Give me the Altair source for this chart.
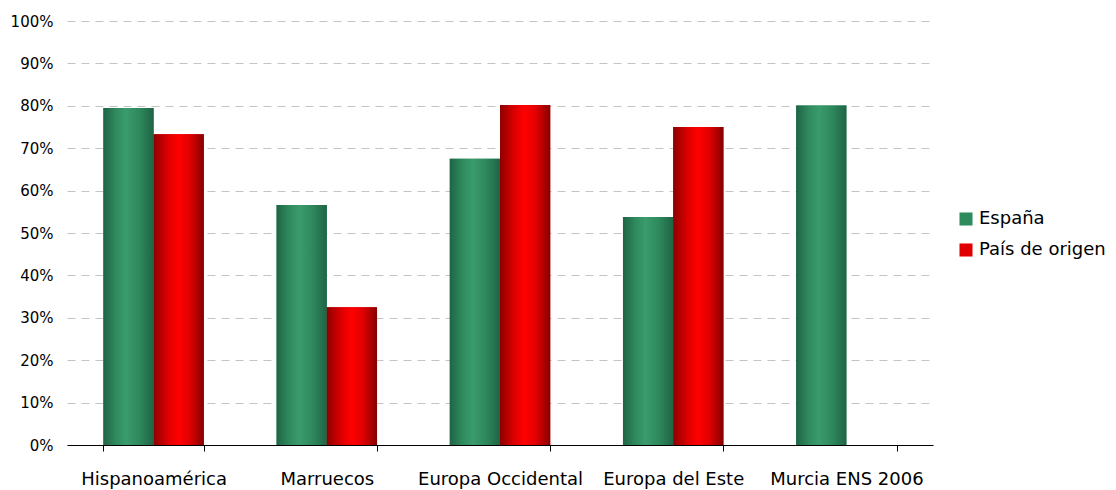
import altair as alt
import pandas as pd

# Share of respondents by region of origin
categorias = ["Hispanoamérica", "Marruecos", "Europa Occidental", "Europa del Este", "Murcia ENS 2006"]
series = ["España", "País de origen"]
espana = [79.5, 56.6, 67.5, 53.8, 80.1]
pais_origen = [73.3, 32.5, 80.2, 75.0, None]
ticks_y = [0, 0.1, 0.2, 0.3, 0.4, 0.5, 0.6, 0.7, 0.8, 0.9, 1.0]

rows = []
for region, e, p in zip(categorias, espana, pais_origen):
    rows.append({"region": region, "serie": "España", "valor": e / 100})
    if p is not None:
        rows.append({"region": region, "serie": "País de origen", "valor": p / 100})
df = pd.DataFrame(rows)

# cylinder-like horizontal shading for the bars
verde = alt.Gradient(
    gradient="linear", x1=0, x2=1, y1=0, y2=0,
    stops=[
        alt.GradientStop(color="#1f6445", offset=0),
        alt.GradientStop(color="#2f8a5e", offset=0.25),
        alt.GradientStop(color="#3a9b6c", offset=0.45),
        alt.GradientStop(color="#2f8a5e", offset=0.7),
        alt.GradientStop(color="#1f6445", offset=1),
    ],
)
rojo = alt.Gradient(
    gradient="linear", x1=0, x2=1, y1=0, y2=0,
    stops=[
        alt.GradientStop(color="#8e0000", offset=0),
        alt.GradientStop(color="#e00000", offset=0.3),
        alt.GradientStop(color="#ff0000", offset=0.5),
        alt.GradientStop(color="#e00000", offset=0.72),
        alt.GradientStop(color="#850000", offset=1),
    ],
)

FONT = "DejaVu Sans"

base = alt.Chart(df).encode(
    x=alt.X(
        "region:N", sort=categorias, title=None,
        scale=alt.Scale(paddingInner=0.42, paddingOuter=0.21),
        axis=alt.Axis(
            labelAngle=0, labelFontSize=18, labelPadding=19, labelColor="#000000",
            domainColor="#000000", domainWidth=1, tickColor="#000000", tickSize=6,
            tickBand="extent", grid=False, labelFont=FONT,
        ),
    ),
    xOffset=alt.XOffset("serie:N", sort=series, scale=alt.Scale(paddingInner=0, paddingOuter=0)),
    y=alt.Y(
        "valor:Q", title=None,
        scale=alt.Scale(domain=[0, 1], nice=False),
        axis=alt.Axis(
            values=ticks_y, format=".0%", labelFontSize=15, labelPadding=14,
            labelColor="#000000", domain=False, ticks=False, grid=True,
            gridColor="#c4c4c4", gridDash=[8, 6], gridWidth=1, labelFont=FONT,
        ),
    ),
)

solid = base.mark_bar().encode(
    color=alt.Color(
        "serie:N",
        scale=alt.Scale(domain=series, range=["#2e8b5e", "#e00000"]),
        legend=alt.Legend(
            title=None, orient="none", legendX=890, legendY=189,
            symbolType="square", symbolSize=170, symbolStrokeWidth=0,
            labelFontSize=18, labelFont=FONT, labelColor="#000000",
            rowPadding=13, labelOffset=4,
        ),
    )
)

shaded = base.mark_bar().encode(
    fill=alt.condition(alt.datum.serie == "España", alt.value(verde), alt.value(rojo))
)

chart = (
    alt.layer(solid, shaded)
    .properties(
        width=866, height=424,
        background="#ffffff",
        autosize=alt.AutoSizeParams(type="none"),
        padding={"left": 67, "top": 21, "right": 183, "bottom": 45},
    )
    .configure_view(strokeWidth=0, stroke="transparent")
)

chart.save("out.html", embed_options={"renderer": "svg", "actions": False})
